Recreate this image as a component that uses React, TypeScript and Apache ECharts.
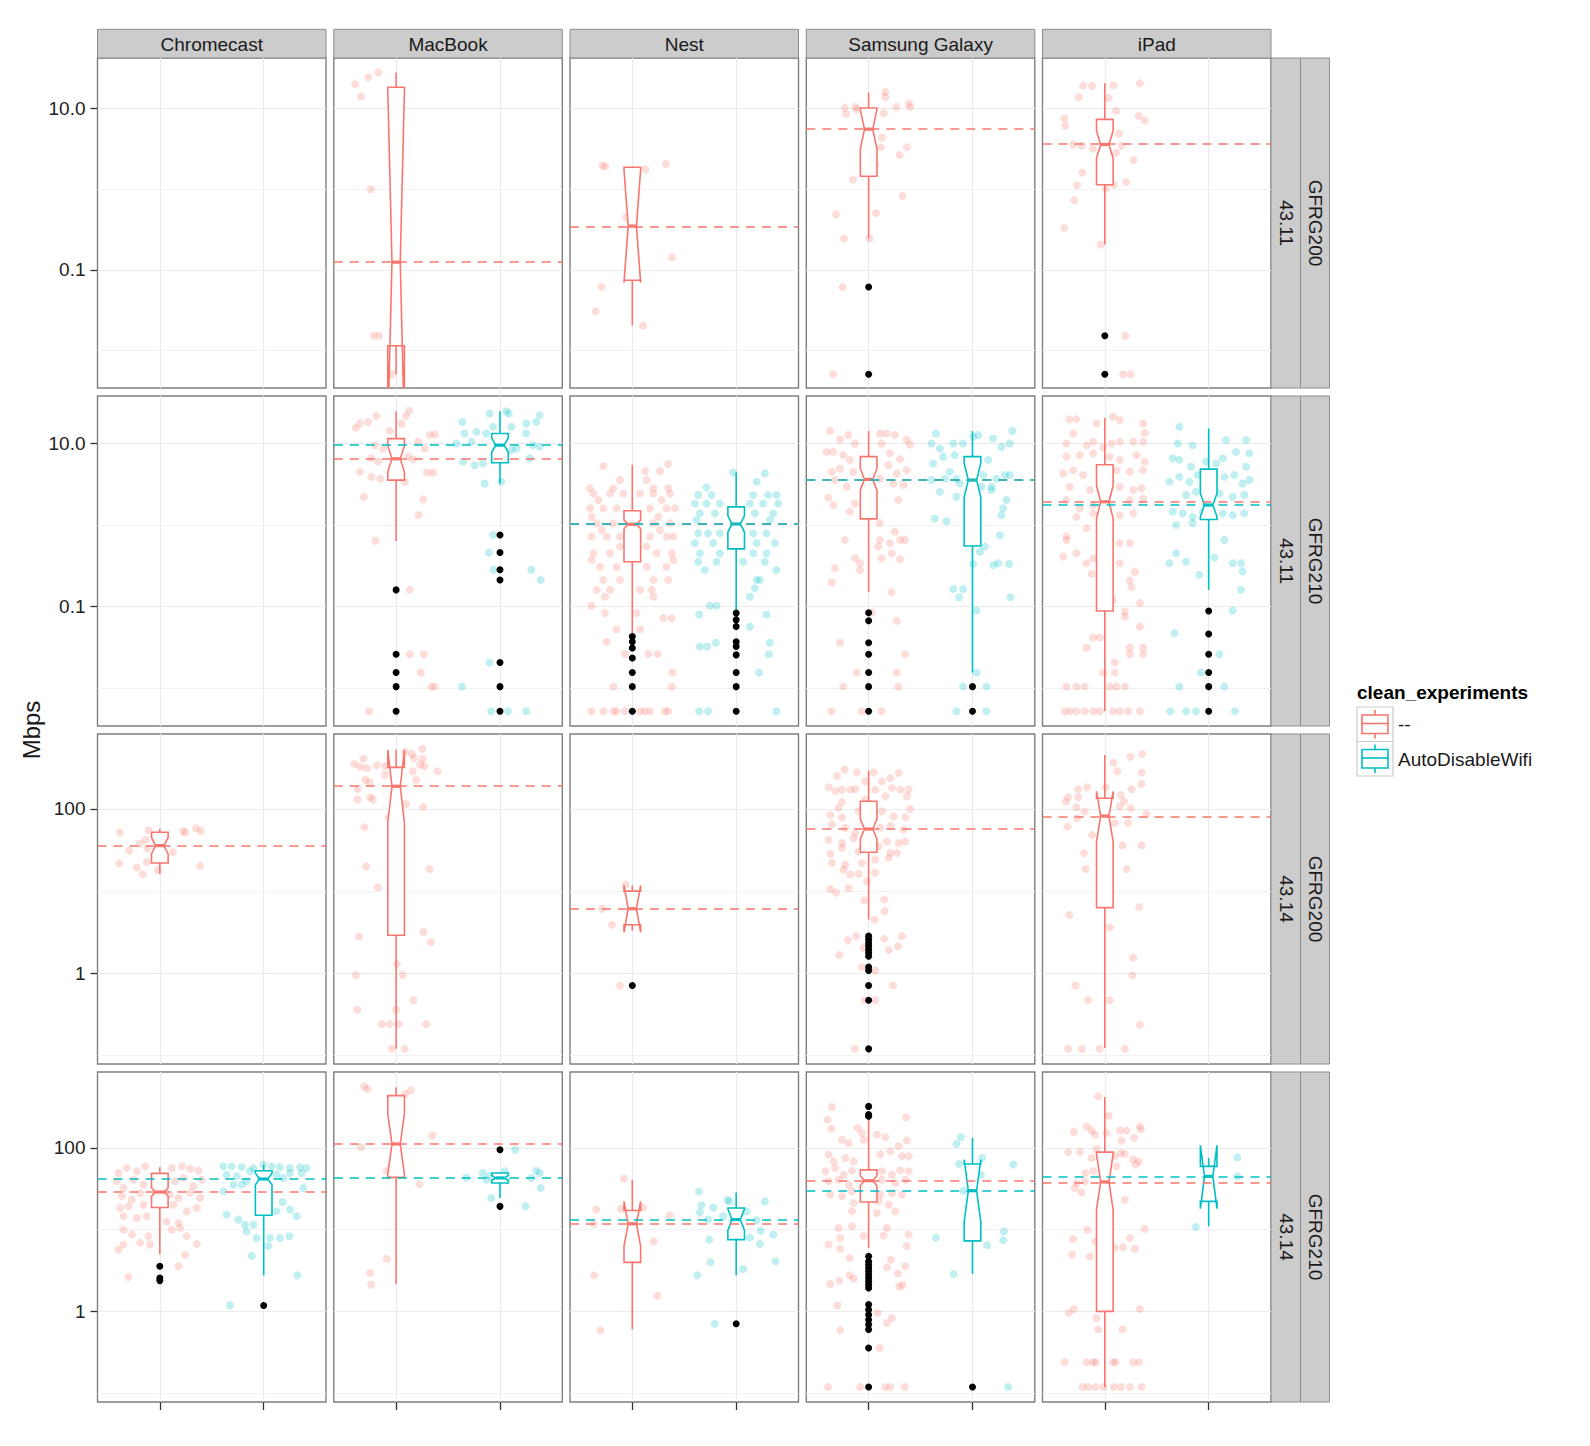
import React, { useRef, useEffect } from 'react';
import * as echarts from 'echarts';

const RED = '#F8766D';
const CYAN = '#00BFC4';
const FONT = '"Liberation Sans", Arial, Helvetica, sans-serif';

const devices = ['Chromecast', 'MacBook', 'Nest', 'Samsung Galaxy', 'iPad'];
const firmware = ['43.11', '43.11', '43.14', '43.14'];
const routers = ['GFRG200', 'GFRG210', 'GFRG200', 'GFRG210'];
const groupNames = ['--', 'AutoDisableWifi'];

// y limits per facet row (Mbps, log scale)
const rowLimits = [[0.003436, 42.5], [0.00342, 38.3], [0.0785, 818], [0.0778, 851]];
const majorTicksTop = [0.1, 10];
const majorLabelsTop = ['0.1', '10.0'];
const minorTicksTop = [0.01, 1];
const majorTicksLow = [1, 100];
const majorLabelsLow = ['1', '100'];
const minorTicksLow = [0.1, 10];

// box: [lower whisker, q1, notch low, median, notch high, q3, upper whisker]
// pts: [jitter offset, Mbps]

// ---- 43.11 / GFRG200
const mac1RedBox = [0.0051, 0.0115, 0.00092, 0.125, 17, 18.4, 28];
const mac1RedPts = [[-0.395, 20], [-0.337, 14.2], [-0.268, 24.5], [-0.172, 28], [-0.244, 1.0], [-0.217, 0.0153], [-0.165, 0.0153], [-0.04, 0.0051]];
const nest1RedBox = [0.0205, 0.0745, 0.0697, 0.35, 1.75, 1.88, 1.9];
const nest1RedPts = [[-0.286, 1.97], [-0.26, 1.91], [0.125, 1.77], [0.324, 2.07], [-0.058, 0.45], [0.382, 0.144], [-0.295, 0.0616], [-0.353, 0.0306], [0.103, 0.0205]];
const sam1RedBox = [0.248, 1.45, 3.17, 5.57, 9.8, 10.2, 15.8];
const sam1RedOut = [0.0616, 0.0051];
const sam1RedPts = [[-0.231, 10.3], [-0.128, 10.5], [-0.218, 8.6], [-0.112, 9.8], [0.16, 16.1], [0.16, 13.9], [0.144, 8.8], [0.266, 10.5], [0.385, 11.5], [0.401, 10.5], [0.128, 4.4], [0.118, 3.33], [0.369, 3.33], [0.298, 2.67], [0.064, 2.0], [-0.151, 1.32], [0.327, 0.826], [-0.315, 0.489], [0.071, 0.508], [-0.237, 0.246], [0.006, 0.246], [-0.25, 0.0616], [-0.343, 0.0051]];
const ipad1RedBox = [0.207, 1.14, 2.43, 3.6, 5.3, 7.36, 20.7];
const ipad1RedOut = [0.0153, 0.0051];
const ipad1RedPts = [[-0.209, 19.3], [-0.123, 19.1], [0.083, 19.5], [0.335, 20.6], [-0.249, 13.8], [0.036, 13.5], [0.109, 9.4], [-0.388, 7.6], [-0.381, 6.1], [0.328, 8.1], [0.385, 7.2], [0.136, 4.9], [-0.305, 3.6], [-0.222, 3.5], [-0.116, 3.2], [0.159, 3.46], [0.109, 2.83], [0.278, 2.3], [-0.216, 1.61], [-0.268, 1.12], [0.086, 1.14], [0.205, 1.23], [0.01, 1.02], [-0.295, 0.73], [-0.391, 0.33], [-0.04, 0.207], [0.199, 0.0153], [0.176, 0.0051], [0.248, 0.0051]];

// ---- 43.11 / GFRG210
const mac2RedBox = [0.637, 3.56, 4.5, 6.5, 9.4, 11.5, 24.9];
const mac2RedOut = [0.16, 0.026, 0.0155, 0.0104, 0.0052];
const mac2RedPts = [[-0.388, 15.6], [-0.35, 17.6], [-0.27, 18.4], [-0.19, 21.7], [0.051, 17.6], [0.093, 21.7], [0.125, 25.2], [-0.061, 14.3], [-0.205, 9.5], [-0.125, 8.7], [0.212, 10.5], [0.276, 8.7], [0.324, 12.7], [0.372, 13], [0.116, 6.9], [0.164, 6.4], [-0.238, 6.6], [-0.173, 6], [-0.35, 4.5], [-0.238, 3.9], [-0.151, 3.7], [0.298, 4.4], [0.356, 4.4], [0.084, 3.4], [-0.311, 2.2], [0.26, 2.07], [0.218, 1.33], [-0.199, 0.64], [0.132, 0.16], [0.132, 0.026], [0.266, 0.026], [0.238, 0.0155], [0.34, 0.0104], [0.372, 0.0104], [-0.26, 0.0052]];
const mac2CyanBox = [3.24, 5.8, 7.8, 9.55, 11.7, 13.3, 24.9];
const mac2CyanOut = [0.753, 0.46, 0.283, 0.212, 0.0206, 0.0104, 0.0052];
const mac2CyanPts = [[-0.363, 18.4], [-0.1, 23.4], [0.061, 24.9], [0.084, 23.4], [0.382, 22.3], [0.253, 17.6], [0.349, 18.4], [-0.067, 16], [0.109, 16], [-0.34, 13.3], [-0.228, 13.9], [-0.132, 13.3], [0.253, 13.3], [-0.42, 10], [-0.276, 10.5], [0.157, 8.7], [0.318, 9.55], [0.382, 9.1], [-0.356, 6], [-0.244, 5.4], [-0.164, 5.7], [0.109, 8.3], [0.286, 6.6], [-0.148, 3.24], [0.013, 3.4], [-0.067, 0.753], [-0.106, 0.46], [-0.061, 0.283], [0.302, 0.283], [0.392, 0.212], [-0.1, 0.0206], [-0.366, 0.0104], [-0.084, 0.0052], [0.077, 0.0052], [0.253, 0.0052]];
const nest2RedBox = [0.045, 0.355, 0.9, 1.02, 1.15, 1.5, 5.5];
const nest2RedOut = [0.0428, 0.037, 0.031, 0.0233, 0.0155, 0.0104, 0.0052];
const nest2RedPts = [[-0.279, 5.3], [0.122, 4.6], [0.266, 4.6], [0.346, 5.6], [-0.41, 2.82], [-0.183, 2.82], [0.202, 2.82], [0.346, 2.82], [-0.119, 3.56], [0.138, 3.56], [-0.375, 2.44], [-0.215, 2.44], [-0.087, 2.44], [0.074, 2.44], [0.202, 2.44], [0.363, 2.44], [-0.327, 2.02], [0.282, 2.02], [-0.407, 1.6], [-0.279, 1.6], [-0.151, 1.6], [0.17, 1.6], [0.33, 1.6], [0.411, 1.6], [-0.391, 1.26], [0.25, 1.26], [-0.343, 1.05], [-0.183, 1.05], [0.202, 1.05], [0.363, 1.05], [-0.295, 0.87], [0.266, 0.87], [-0.391, 0.72], [-0.247, 0.72], [-0.119, 0.72], [0.17, 0.72], [0.33, 0.72], [0.395, 0.72], [-0.119, 0.543], [0.138, 0.543], [-0.375, 0.45], [-0.215, 0.45], [0.234, 0.45], [0.379, 0.45], [-0.391, 0.372], [0.395, 0.372], [-0.311, 0.308], [-0.151, 0.308], [0.138, 0.308], [0.33, 0.308], [-0.279, 0.212], [-0.119, 0.212], [0.202, 0.212], [0.346, 0.212], [-0.343, 0.16], [-0.215, 0.16], [0.074, 0.16], [0.186, 0.16], [-0.263, 0.132], [0.202, 0.132], [-0.391, 0.102], [-0.263, 0.083], [0.042, 0.083], [0.298, 0.072], [0.379, 0.072], [-0.151, 0.0525], [0.074, 0.0525], [-0.247, 0.037], [-0.071, 0.0262], [0.154, 0.0262], [0.244, 0.0262], [0.385, 0.0155], [-0.183, 0.0104], [0.379, 0.0104], [-0.391, 0.0052], [-0.279, 0.0052], [-0.183, 0.0052], [-0.151, 0.0052], [-0.071, 0.0052], [0.074, 0.0052], [0.122, 0.0052], [0.17, 0.0052], [0.314, 0.0052], [0.346, 0.0052]];
const nest2CyanBox = [0.091, 0.51, 0.82, 1.03, 1.3, 1.67, 4.4];
const nest2CyanOut = [0.083, 0.0686, 0.0568, 0.037, 0.0323, 0.0255, 0.0155, 0.0104, 0.0052];
const nest2CyanPts = [[-0.029, 4.4], [-0.286, 2.9], [0.196, 3.4], [0.276, 4.3], [-0.366, 2.33], [-0.237, 2.33], [0.164, 2.33], [0.308, 2.33], [0.388, 2.33], [-0.398, 1.84], [-0.286, 1.84], [-0.157, 1.84], [0.132, 1.84], [0.26, 1.84], [0.404, 1.84], [-0.35, 1.39], [-0.205, 1.39], [0.18, 1.39], [0.356, 1.39], [-0.382, 1.15], [0.324, 1.15], [-0.366, 0.79], [-0.27, 0.79], [-0.157, 0.79], [0.164, 0.79], [0.292, 0.79], [-0.398, 0.6], [-0.221, 0.6], [0.196, 0.6], [0.372, 0.6], [-0.35, 0.45], [-0.157, 0.45], [0.164, 0.45], [0.292, 0.45], [-0.366, 0.355], [-0.189, 0.355], [0.067, 0.355], [0.276, 0.355], [-0.302, 0.281], [0.388, 0.281], [0.196, 0.212], [0.228, 0.212], [0.18, 0.167], [0.132, 0.132], [-0.253, 0.102], [-0.189, 0.102], [-0.356, 0.08], [0.292, 0.08], [0.132, 0.0567], [-0.35, 0.0323], [-0.279, 0.0323], [-0.196, 0.036], [0.324, 0.036], [0.314, 0.026], [0.221, 0.0155], [-0.356, 0.0052], [-0.27, 0.0052], [0.388, 0.0052]];
const sam2RedBox = [0.152, 1.19, 2.67, 3.63, 4.95, 6.9, 14.2];
const sam2RedOut = [0.084, 0.067, 0.036, 0.026, 0.0155, 0.0104, 0.0052];
const sam2RedPts = [[-0.372, 14.3], [-0.276, 11.2], [-0.196, 12.7], [-0.132, 10.0], [-0.34, 7.9], [-0.244, 7.2], [-0.404, 7.9], [-0.18, 6.3], [-0.356, 4.5], [-0.276, 4.9], [-0.148, 4.5], [-0.324, 3.56], [-0.212, 2.95], [-0.388, 2.18], [-0.34, 1.76], [-0.18, 1.46], [-0.132, 1.84], [0.109, 13.3], [0.173, 13.3], [0.253, 12.7], [0.366, 11.2], [0.398, 9.7], [0.125, 10.0], [0.205, 7.6], [0.302, 6.4], [0.366, 4.7], [0.27, 4.3], [0.189, 5.4], [0.109, 3.7], [0.237, 3.24], [0.334, 3.1], [0.286, 2.02], [0.109, 1.05], [0.253, 0.83], [0.302, 0.655], [0.205, 0.6], [0.35, 0.655], [-0.228, 0.655], [0.109, 0.655], [0.093, 0.543], [0.221, 0.45], [0.125, 0.39], [0.302, 0.38], [-0.132, 0.39], [-0.083, 0.339], [-0.324, 0.295], [-0.083, 0.281], [-0.356, 0.197], [0.221, 0.15], [0.029, 0.084], [0.27, 0.067], [-0.276, 0.036], [0.35, 0.026], [-0.115, 0.0155], [0.27, 0.0155], [-0.244, 0.0104], [0.286, 0.0104], [-0.356, 0.0052], [-0.067, 0.0052], [0.125, 0.0052]];
const sam2CyanBox = [0.0155, 0.553, 2.2, 3.56, 5.75, 6.9, 14.2];
const sam2CyanOut = [0.0104, 0.0052];
const sam2CyanPts = [[-0.353, 13.3], [-0.186, 10.0], [-0.09, 10.0], [0.006, 12.1], [0.055, 12.7], [0.199, 11.5], [0.385, 14.3], [0.279, 9.1], [0.359, 10.0], [-0.395, 10.0], [-0.314, 8.7], [-0.379, 5.7], [-0.282, 6.9], [-0.17, 7.2], [-0.218, 4.5], [-0.154, 3.7], [-0.266, 3.7], [-0.395, 3.56], [-0.122, 3.24], [-0.314, 2.56], [-0.154, 2.22], [0.103, 4.1], [0.183, 2.95], [0.231, 3.7], [0.311, 4.1], [0.359, 4.1], [0.087, 2.95], [0.151, 6.3], [0.183, 2.69], [0.327, 2.02], [0.295, 1.6], [0.279, 1.32], [-0.363, 1.2], [-0.25, 1.11], [0.263, 0.75], [0.119, 0.543], [0.071, 0.47], [0.199, 0.323], [0.247, 0.339], [0.353, 0.333], [0.006, 0.333], [-0.186, 0.164], [-0.09, 0.164], [-0.128, 0.13], [0.366, 0.13], [0.038, 0.089], [0.038, 0.0155], [-0.09, 0.0104], [0.135, 0.0104], [-0.154, 0.0052], [0.135, 0.0052]];
const ipad2RedBox = [0.0052, 0.088, 1.2, 1.93, 3.05, 5.5, 20.6];
const ipad2RedPts = [[-0.343, 19.8], [-0.273, 19.8], [-0.08, 17.6], [0.08, 21.3], [0.144, 19.4], [0.369, 17.6], [0.385, 13.5], [-0.305, 13.3], [-0.369, 10.0], [-0.176, 9.5], [-0.112, 10.5], [-0.016, 9.0], [0.064, 10.0], [0.144, 10.5], [0.273, 10.5], [0.369, 10.5], [-0.369, 6.9], [-0.241, 7.2], [-0.112, 7.6], [0.048, 6.9], [0.144, 6.3], [0.305, 7.2], [0.385, 6.0], [-0.401, 4.3], [-0.305, 4.7], [-0.209, 4.1], [0.112, 4.7], [0.241, 4.5], [0.369, 4.7], [-0.337, 2.95], [-0.144, 2.69], [0.144, 2.95], [0.273, 2.69], [0.353, 2.82], [-0.369, 2.02], [-0.241, 1.6], [-0.112, 1.76], [0.241, 2.02], [0.369, 2.1], [-0.273, 1.26], [-0.112, 1.39], [0.144, 1.32], [0.273, 1.39], [-0.176, 0.91], [-0.369, 0.72], [-0.369, 0.655], [0.144, 0.6], [0.241, 0.6], [-0.273, 0.45], [-0.401, 0.41], [-0.112, 0.39], [0.144, 0.339], [0.289, 0.264], [-0.176, 0.339], [-0.128, 0.252], [0.241, 0.208], [0.257, 0.172], [0.337, 0.11], [0.08, 0.12], [0.193, 0.087], [0.193, 0.075], [0.337, 0.0567], [-0.112, 0.0416], [-0.048, 0.0416], [-0.176, 0.0314], [0.241, 0.0314], [0.369, 0.0314], [0.369, 0.026], [0.241, 0.026], [0.096, 0.0206], [0.096, 0.0155], [-0.016, 0.0155], [-0.369, 0.0104], [-0.273, 0.0104], [-0.193, 0.0104], [0.048, 0.0104], [0.112, 0.0104], [0.193, 0.0104], [-0.385, 0.0052], [-0.337, 0.0052], [-0.273, 0.0052], [-0.193, 0.0052], [-0.112, 0.0052], [-0.048, 0.0052], [0.08, 0.0052], [0.144, 0.0052], [0.225, 0.0052], [0.337, 0.0052]];
const ipad2CyanBox = [0.16, 1.17, 1.26, 1.76, 2.44, 4.85, 15.3];
const ipad2CyanOut = [0.088, 0.046, 0.026, 0.0155, 0.0104, 0.0052];
const ipad2CyanPts = [[-0.282, 16.0], [-0.298, 10.0], [-0.154, 9.5], [-0.346, 6.6], [-0.282, 6.3], [-0.17, 5.2], [-0.026, 6.0], [0.071, 5.7], [0.167, 11.0], [0.359, 11.0], [0.391, 7.6], [0.263, 7.9], [0.359, 5.2], [0.135, 6.6], [0.151, 3.9], [0.247, 4.1], [0.327, 3.24], [0.391, 3.56], [-0.379, 3.4], [-0.282, 3.9], [-0.186, 3.4], [-0.106, 4.1], [-0.218, 2.33], [-0.122, 2.56], [0.103, 2.44], [0.231, 2.22], [0.343, 2.33], [-0.346, 1.46], [-0.25, 1.39], [-0.154, 1.26], [-0.058, 1.46], [0.135, 1.39], [0.231, 1.32], [0.343, 1.39], [-0.314, 1.0], [-0.154, 1.05], [0.151, 0.655], [-0.314, 0.45], [0.055, 0.4], [-0.379, 0.339], [-0.218, 0.355], [0.231, 0.339], [0.311, 0.339], [0.327, 0.27], [-0.09, 0.245], [0.311, 0.16], [0.231, 0.089], [-0.33, 0.047], [0.103, 0.026], [-0.074, 0.0155], [-0.282, 0.0104], [0.151, 0.0104], [-0.369, 0.0052], [-0.218, 0.0052], [-0.122, 0.0052], [0.253, 0.0052]];

// ---- 43.14 / GFRG200
const chr3RedBox = [16.3, 22, 28.4, 35.8, 45, 52, 57.5];
const chr3RedPts = [[-0.385, 51.5], [-0.109, 55], [-0.138, 42], [-0.195, 37.8], [-0.295, 31], [-0.119, 33], [0.125, 29.7], [0.228, 54], [0.244, 51.5], [0.35, 58], [0.395, 54], [-0.391, 21.6], [-0.221, 19.3], [-0.125, 22.4], [-0.164, 16], [-0.019, 17.9], [0.388, 20.3]];
const mac3RedBox = [0.12, 2.9, 68, 189, 526, 321, 526];
const mac3RedPts = [[-0.315, 409], [-0.401, 352], [-0.346, 324], [-0.282, 315], [-0.186, 340], [-0.106, 331], [0.087, 493], [0.151, 467], [0.173, 417], [0.253, 542], [0.257, 409], [0.231, 346], [0.273, 331], [0.161, 288], [0.398, 288], [0.193, 227], [-0.298, 227], [-0.257, 213], [-0.106, 261], [-0.372, 175], [-0.25, 139], [-0.224, 130], [-0.372, 130], [0.096, 115], [0.26, 106], [-0.074, 79], [-0.305, 60], [-0.289, 20], [0.321, 18.5], [-0.176, 11.1], [-0.359, 2.8], [0.263, 3.2], [0.334, 2.4], [0.006, 1.3], [-0.388, 0.95], [0.064, 0.95], [0.167, 0.47], [-0.375, 0.36], [0, 0.36], [-0.138, 0.24], [-0.064, 0.24], [0.026, 0.24], [0.289, 0.24], [-0.042, 0.12], [0.083, 0.12]];
const nest3RedBox = [3.3, 3.9, 3.15, 6.1, 11.7, 10, 11.7];
const nest3RedOut = [0.71];
const nest3RedPts = [[-0.064, 12], [-0.289, 6.1], [-0.196, 3.9], [-0.119, 0.71]];
const sam3RedBox = [4.5, 29.7, 43, 57, 75.5, 124, 292];
const sam3RedOut = [2.83, 2.57, 2.34, 2.14, 1.94, 1.77, 1.61, 1.19, 1.08, 0.71, 0.47, 0.12];
const sam3RedPts = [[-0.231, 301], [-0.112, 279], [0.048, 279], [0.289, 274], [-0.305, 254], [0.209, 238], [-0.032, 217], [0.128, 217], [-0.385, 184], [-0.257, 172], [-0.128, 175], [0.064, 172], [0.225, 180], [0.305, 172], [0.385, 172], [-0.321, 164], [-0.176, 172], [0.16, 143], [0.369, 143], [-0.257, 122], [-0.096, 94], [-0.032, 130], [-0.289, 103], [-0.369, 85], [-0.257, 79], [0.128, 94], [0.241, 81], [0.353, 79], [0.401, 100], [-0.353, 65], [-0.225, 59], [-0.128, 51], [0.112, 59], [0.209, 62], [0.337, 56], [-0.385, 42], [-0.257, 38.6], [-0.144, 44], [0.176, 40], [0.289, 38.6], [0.353, 40], [-0.369, 28.4], [-0.257, 33.6], [-0.096, 30.5], [0.096, 35], [0.209, 29.2], [0.273, 29.2], [-0.353, 22], [-0.225, 21], [-0.064, 22], [0.064, 24.2], [0.193, 25.4], [-0.241, 18.3], [-0.176, 15.9], [-0.096, 16.2], [0.064, 16.7], [-0.369, 10.6], [-0.314, 9.6], [-0.193, 10.9], [-0.016, 13.2], [-0.042, 7.7], [0.151, 7.9], [0.154, 5.7], [0.058, 4.5], [-0.199, 2.52], [-0.119, 2.83], [0.151, 2.62], [0.321, 2.83], [-0.282, 1.66], [-0.048, 2.04], [0.193, 1.91], [0.282, 2.13], [-0.064, 1.19], [0.064, 1.08], [0.234, 0.71], [-0.038, 0.47], [0.064, 0.47], [-0.135, 0.12]];
const ipad3RedBox = [0.123, 6.3, 40, 82, 164, 135, 454];
const ipad3RedPts = [[0.359, 467], [0.247, 433], [0.083, 366], [0.119, 288], [0.353, 277], [0.353, 201], [0.257, 174], [-0.257, 174], [-0.17, 184], [0.01, 184], [-0.353, 139], [-0.257, 139], [-0.375, 123], [-0.273, 104], [-0.193, 93], [0.154, 148], [0.144, 107], [0.186, 123], [0.25, 102], [0.401, 87], [-0.266, 77], [-0.359, 61], [0.096, 67], [0.224, 68], [-0.122, 48], [0.17, 36], [0.353, 36], [-0.199, 29], [-0.186, 18.6], [0.212, 18.6], [-0.343, 5.1], [0.331, 6.4], [0.048, 3.6], [0.273, 1.55], [0.266, 0.94], [-0.282, 0.71], [-0.16, 0.47], [0.048, 0.47], [0.337, 0.235], [-0.353, 0.12], [-0.221, 0.12], [-0.051, 0.12], [0.193, 0.12]];

// ---- 43.14 / GFRG210
const chr4RedBox = [5.0, 18.7, 25.8, 28.9, 32.4, 48.9, 58];
const chr4RedOut = [3.56, 2.56, 2.38];
const chr4RedPts = [[-0.398, 49.4], [-0.318, 56.9], [-0.221, 51.8], [-0.141, 59.6], [0.115, 56.9], [0.212, 59.6], [0.292, 55.8], [0.372, 52.8], [-0.414, 39.1], [-0.35, 32.4], [-0.253, 40.9], [-0.157, 35.6], [0.148, 39.1], [0.228, 42.9], [0.324, 34], [0.404, 40.9], [-0.366, 25.6], [-0.269, 23.3], [-0.189, 28.1], [0.099, 26.8], [0.18, 24.4], [0.292, 28.1], [0.388, 24.4], [-0.382, 18.4], [-0.302, 19.3], [-0.157, 20.2], [0.132, 20.2], [0.26, 16.8], [0.356, 18.4], [-0.35, 14.6], [-0.221, 13.9], [-0.125, 14.6], [0.067, 12.6], [0.18, 12.1], [-0.35, 10], [-0.269, 8.7], [-0.109, 8.3], [0.115, 10], [0.26, 8.3], [0.196, 10.5], [-0.398, 5.7], [-0.35, 6.6], [-0.189, 6.9], [-0.093, 6.6], [0.356, 6.7], [0.244, 4.9], [0.18, 3.56], [-0.302, 2.64]];
const chr4CyanBox = [2.76, 15, 35.5, 41.7, 49, 52.7, 62.5];
const chr4CyanOut = [1.18];
const chr4CyanPts = [[-0.388, 59.6], [-0.308, 59.6], [-0.212, 58.5], [-0.099, 56.9], [-0.003, 62.5], [0.077, 59.6], [0.157, 58], [0.253, 56.9], [0.35, 58], [0.414, 56.9], [-0.356, 47.1], [-0.26, 45], [-0.132, 51.8], [0.125, 47.1], [0.253, 49.4], [0.366, 49.4], [-0.388, 29.5], [-0.292, 35.6], [-0.212, 35.6], [-0.164, 39.1], [-0.003, 35.6], [0.189, 42.9], [0.382, 32.4], [-0.356, 15.3], [-0.244, 13.3], [-0.164, 9.5], [-0.099, 11.5], [0.045, 16.8], [0.125, 16.8], [0.183, 21.8], [0.253, 17.6], [0.318, 14.6], [-0.18, 11.5], [-0.067, 7.9], [0.061, 7.9], [0.157, 7.9], [0.247, 8.3], [-0.115, 4.8], [0.045, 6.3], [0.324, 2.76], [-0.324, 1.19]];
const mac4RedBox = [2.16, 43.7, 47.8, 112, 262, 437, 552];
const mac4RedPts = [[-0.308, 567], [-0.276, 527], [0.087, 458], [0.141, 507], [0.349, 142], [-0.337, 102], [-0.09, 52.7], [0.224, 36], [-0.09, 4.4], [-0.25, 2.95], [-0.241, 2.12]];
const mac4CyanBox = [24.4, 37.3, 40, 43, 46.2, 49.4, 50];
const mac4CyanOut = [95, 19.3];
const mac4CyanPts = [[-0.324, 43.6], [-0.164, 49.4], [-0.099, 45], [-0.131, 40.9], [0.045, 51.8], [0.061, 40.9], [0.349, 52.7], [0.382, 49.4], [0.301, 43], [0.392, 32.4], [0.147, 95], [-0.084, 24.4], [0.247, 19.3]];
const nest4RedBox = [0.6, 3.98, 6.3, 11.8, 22.2, 17.2, 40.9];
const nest4RedPts = [[-0.08, 42], [-0.346, 17.6], [-0.112, 18], [0.103, 18.7], [0.359, 15], [-0.369, 11.7], [0.205, 7.2], [-0.369, 2.76], [0.241, 1.56], [-0.305, 0.585]];
const nest4CyanBox = [2.76, 7.55, 9.8, 13.3, 18, 18.4, 28.6];
const nest4CyanOut = [0.706];
const nest4CyanPts = [[-0.359, 29.4], [-0.334, 19.9], [-0.349, 16.3], [-0.221, 18.7], [-0.084, 23.3], [-0.064, 22.2], [0.276, 22.2], [-0.27, 13.3], [-0.125, 14.6], [0.196, 13], [0.1, 16.7], [0.234, 9.7], [0.356, 8.7], [0.132, 8], [-0.26, 7.55], [0.228, 6.7], [-0.247, 4.0], [0.379, 4.1], [0.067, 3.3], [-0.375, 2.76], [-0.205, 0.706]];
const sam4RedBox = [5.97, 21.8, 34.7, 39.8, 45.7, 54, 233];
const sam4RedOut = [323, 256, 244, 4.72, 4.09, 3.73, 3.4, 3.09, 2.81, 2.56, 2.33, 2.12, 1.93, 1.21, 1.05, 0.91, 0.79, 0.69, 0.6, 0.356, 0.119];
const sam4RedPts = [[-0.353, 317], [-0.395, 222], [-0.359, 172], [0.363, 237], [-0.106, 175], [-0.064, 152], [-0.192, 115], [-0.257, 126], [-0.048, 126], [0.08, 146], [0.16, 135], [0.289, 105], [0.369, 123], [-0.385, 83], [-0.337, 68.6], [-0.225, 75.4], [-0.144, 68.6], [0.112, 83], [0.209, 91], [0.321, 79], [0.385, 79], [-0.417, 51.8], [-0.321, 56.9], [-0.241, 47.1], [-0.16, 52.8], [0.128, 51.8], [0.225, 47.1], [0.305, 53.5], [0.385, 51.8], [-0.385, 39.1], [-0.289, 40.9], [-0.192, 35.6], [0.128, 40.9], [0.257, 37.3], [0.353, 40.9], [-0.369, 26.8], [-0.257, 25.6], [-0.16, 29.5], [0.112, 26.8], [0.225, 28.1], [0.321, 26.8], [-0.144, 21.2], [0.096, 22.2], [0.193, 20.2], [-0.16, 16.8], [0.08, 16], [0.257, 16.8], [-0.289, 10.5], [-0.16, 11], [0.176, 10.5], [-0.273, 7.9], [-0.385, 6.6], [-0.273, 5.85], [-0.048, 8.3], [0.144, 8.5], [0.385, 8.7], [0.369, 6.3], [-0.183, 4.5], [0.215, 4.3], [0.176, 3.46], [0.282, 2.92], [0.353, 3.56], [-0.183, 2.76], [-0.144, 2.51], [-0.369, 2.16], [-0.282, 2.38], [0.295, 2.02], [0.327, 2.12], [-0.302, 1.19], [-0.273, 0.59], [0.087, 0.955], [0.225, 0.83], [0.176, 0.72], [0.106, 0.356], [-0.391, 0.119], [-0.08, 0.119], [0.16, 0.119], [0.209, 0.119], [0.347, 0.119]];
const sam4CyanBox = [2.87, 7.3, 12.5, 30, 72, 63.7, 133];
const sam4CyanOut = [0.119];
const sam4CyanPts = [[-0.154, 112], [-0.112, 135], [0.093, 75.5], [-0.128, 63.7], [0.392, 62.5], [0.08, 47], [-0.087, 30], [-0.353, 8], [0.301, 9.5], [0.295, 7.4], [0.141, 6.5], [-0.18, 2.87], [0.343, 0.119]];
const ipad4RedBox = [0.119, 1.0, 17.6, 38.4, 84, 89, 421];
const ipad4RedPts = [[-0.064, 428], [0.038, 248], [-0.298, 157], [-0.176, 184], [-0.128, 163], [-0.096, 146], [0.016, 153], [0.144, 163], [0.209, 163], [0.282, 133], [0.337, 184], [0.346, 168], [0.16, 123], [-0.353, 89], [-0.241, 89], [-0.128, 75.5], [-0.08, 98], [0.096, 79], [0.154, 87], [0.192, 84.5], [0.273, 72], [0.327, 68.6], [0.298, 62.5], [-0.186, 49.4], [-0.112, 51.8], [0.112, 59.6], [-0.192, 39], [-0.273, 37.3], [-0.289, 32.4], [-0.225, 28.6], [0.192, 23.3], [-0.167, 10], [-0.305, 7.7], [-0.09, 7.2], [0.096, 6.0], [0.176, 6.1], [0.241, 7.9], [0.289, 5.85], [0.385, 10.2], [-0.314, 4.94], [-0.144, 4.7], [-0.346, 0.955], [-0.298, 1.07], [-0.08, 0.83], [-0.064, 0.6], [0.17, 0.6], [0.337, 1.07], [-0.385, 0.238], [-0.176, 0.238], [-0.112, 0.238], [-0.087, 0.238], [0.08, 0.238], [0.103, 0.238], [0.273, 0.238], [0.33, 0.238], [-0.215, 0.119], [-0.16, 0.119], [-0.09, 0.119], [-0.013, 0.119], [0.087, 0.119], [0.154, 0.119], [0.241, 0.119], [0.353, 0.119]];
const ipad4CyanBox = [11, 22.2, 18.1, 44.9, 108, 59.6, 75.5];
const ipad4CyanPts = [[0.276, 76.7], [0.276, 44.9], [-0.125, 10.8]];

type Grp = { box: number[]; out: number[]; pts: number[][] };
const g = (box: number[], out: number[], pts: number[][]): Grp => ({ box, out, pts });

// facet table: [row, col, red group, cyan group]
const panels: [number, number, Grp | null, Grp | null][] = [
  [0, 1, g(mac1RedBox, [], mac1RedPts), null],
  [0, 2, g(nest1RedBox, [], nest1RedPts), null],
  [0, 3, g(sam1RedBox, sam1RedOut, sam1RedPts), null],
  [0, 4, g(ipad1RedBox, ipad1RedOut, ipad1RedPts), null],
  [1, 1, g(mac2RedBox, mac2RedOut, mac2RedPts), g(mac2CyanBox, mac2CyanOut, mac2CyanPts)],
  [1, 2, g(nest2RedBox, nest2RedOut, nest2RedPts), g(nest2CyanBox, nest2CyanOut, nest2CyanPts)],
  [1, 3, g(sam2RedBox, sam2RedOut, sam2RedPts), g(sam2CyanBox, sam2CyanOut, sam2CyanPts)],
  [1, 4, g(ipad2RedBox, [], ipad2RedPts), g(ipad2CyanBox, ipad2CyanOut, ipad2CyanPts)],
  [2, 0, g(chr3RedBox, [], chr3RedPts), null],
  [2, 1, g(mac3RedBox, [], mac3RedPts), null],
  [2, 2, g(nest3RedBox, nest3RedOut, nest3RedPts), null],
  [2, 3, g(sam3RedBox, sam3RedOut, sam3RedPts), null],
  [2, 4, g(ipad3RedBox, [], ipad3RedPts), null],
  [3, 0, g(chr4RedBox, chr4RedOut, chr4RedPts), g(chr4CyanBox, chr4CyanOut, chr4CyanPts)],
  [3, 1, g(mac4RedBox, [], mac4RedPts), g(mac4CyanBox, mac4CyanOut, mac4CyanPts)],
  [3, 2, g(nest4RedBox, [], nest4RedPts), g(nest4CyanBox, nest4CyanOut, nest4CyanPts)],
  [3, 3, g(sam4RedBox, sam4RedOut, sam4RedPts), g(sam4CyanBox, sam4CyanOut, sam4CyanPts)],
  [3, 4, g(ipad4RedBox, [], ipad4RedPts), g(ipad4CyanBox, [], ipad4CyanPts)],
];

const COL_LEFT = [97.5, 333.8, 570, 806.3, 1042.5];
const ROW_TOP = [58, 396, 734, 1072];
const PW = 228.5;
const PH = 330;

const L = (v: number) => Math.log10(v);

function buildOption() {
  const grid: any[] = [];
  const xAxis: any[] = [];
  const yAxis: any[] = [];
  const series: any[] = [];

  for (let r = 0; r < 4; r++) {
    for (let c = 0; c < 5; c++) {
      const gi = r * 5 + c;
      const top = r < 2;
      const majors = top ? majorTicksTop : majorTicksLow;
      const labels = top ? majorLabelsTop : majorLabelsLow;
      const minors = top ? minorTicksTop : minorTicksLow;
      const [lo, hi] = rowLimits[r];
      grid.push({
        left: COL_LEFT[c], top: ROW_TOP[r], width: PW, height: PH,
        show: true, backgroundColor: '#fff', borderColor: '#7F7F7F', borderWidth: 1.4,
        containLabel: false, outerBoundsMode: 'none',
      });
      xAxis.push({
        type: 'value', gridIndex: gi, min: 0.4, max: 2.6, position: 'bottom',
        axisLine: { show: false, onZero: false },
        axisTick: { show: r === 3, customValues: [1, 2], length: 8, lineStyle: { color: '#333', width: 1.3 } },
        axisLabel: { show: false },
        splitLine: { show: true, lineStyle: { color: '#EBEBEB', width: 1.2 } },
      });
      yAxis.push({
        type: 'value', gridIndex: gi, min: L(lo), max: L(hi), position: 'left',
        axisLine: { show: false, onZero: false },
        axisTick: { show: false, customValues: minors.map(L) },
        axisLabel: { show: false },
        splitLine: { show: true, lineStyle: { color: '#F2F2F2', width: 1.2 } },
      });
      yAxis.push({
        type: 'value', gridIndex: gi, min: L(lo), max: L(hi), position: 'left', offset: 0,
        axisLine: { show: false, onZero: false },
        axisTick: { show: c === 0, customValues: majors.map(L), length: 7, lineStyle: { color: '#333', width: 1.3 } },
        axisLabel: {
          show: c === 0, customValues: majors.map(L), margin: 12,
          fontSize: 19, fontFamily: FONT, color: '#222',
          formatter: (v: number) => {
            const i = majors.findIndex((m) => Math.abs(L(m) - v) < 1e-6);
            return i >= 0 ? labels[i] : '';
          },
        },
        splitLine: { show: true, lineStyle: { color: '#EBEBEB', width: 1.2 } },
      });

      const p = panels.find((q) => q[0] === r && q[1] === c);
      if (!p) continue;
      const yi = gi * 2 + 1;
      const grps: [Grp | null, number, string][] = [[p[2], 1, RED], [p[3], 2, CYAN]];
      const boxData: number[][] = [];
      const outData: number[][] = [];
      const medLines: any[] = [];
      grps.forEach(([grp, xc, color], k) => {
        if (!grp) return;
        series.push({
          type: 'scatter', xAxisIndex: gi, yAxisIndex: yi, silent: true, z: 2,
          symbolSize: 8, itemStyle: { color, opacity: 0.25 },
          data: grp.pts.map(([o, v]) => [xc + o, L(v)]),
        });
        boxData.push([xc, ...grp.box.map(L), k]);
        grp.out.forEach((v) => outData.push([xc, L(v)]));
        medLines.push({ yAxis: L(grp.box[3]), lineStyle: { color } });
      });
      series.push({
        type: 'custom', xAxisIndex: gi, yAxisIndex: yi, silent: true, z: 3, clip: true,
        encode: { x: 0, y: 4 },
        data: boxData,
        renderItem: (params: any, api: any) => {
          const xc = api.value(0);
          const hw = 0.08;
          const x0 = api.coord([xc - hw, 0])[0];
          const x1 = api.coord([xc + hw, 0])[0];
          const xm = api.coord([xc, 0])[0];
          const yv = (i: number) => api.coord([xc, api.value(i)])[1];
          const lw = yv(1), q1 = yv(2), nlo = yv(3), med = yv(4), nhi = yv(5), q3 = yv(6), uw = yv(7);
          const color = api.value(8) === 0 ? RED : CYAN;
          const ind = (x1 - x0) * 0.25;
          const st = { stroke: color, lineWidth: 1.6, fill: 'none' };
          return {
            type: 'group',
            children: [
              { type: 'line', shape: { x1: xm, y1: q3, x2: xm, y2: uw }, style: st },
              { type: 'line', shape: { x1: xm, y1: q1, x2: xm, y2: lw }, style: st },
              {
                type: 'polygon',
                shape: { points: [[x0, q3], [x0, nhi], [x0 + ind, med], [x0, nlo], [x0, q1], [x1, q1], [x1, nlo], [x1 - ind, med], [x1, nhi], [x1, q3]] },
                style: { stroke: color, lineWidth: 1.6, fill: '#fff' },
              },
              { type: 'line', shape: { x1: x0 + ind, y1: med, x2: x1 - ind, y2: med }, style: { stroke: color, lineWidth: 3.2 } },
            ],
          };
        },
      });
      series.push({
        type: 'scatter', xAxisIndex: gi, yAxisIndex: yi, silent: true, z: 4,
        symbolSize: 7, itemStyle: { color: '#000', opacity: 1 },
        data: outData,
        markLine: {
          silent: true, symbol: ['none', 'none'], label: { show: false }, animation: false,
          lineStyle: { type: [9, 7], width: 1.6 },
          emphasis: { disabled: true },
          data: medLines,
        },
      });
    }
  }

  const graphic: any[] = [];
  const txt = (x: number, y: number, text: string, extra: any = {}) => ({
    type: 'text', x, y, silent: true, ...extra,
    style: { text, font: `19px ${FONT}`, fill: '#1A1A1A', align: 'center', verticalAlign: 'middle', ...(extra.style || {}) },
  });
  devices.forEach((d, c) => {
    graphic.push({ type: 'rect', silent: true, shape: { x: COL_LEFT[c], y: 29.3, width: PW, height: 28.7 }, style: { fill: '#CCCCCC', stroke: '#8C8C8C', lineWidth: 1 } });
    graphic.push(txt(COL_LEFT[c] + PW / 2, 44, d));
  });
  for (let r = 0; r < 4; r++) {
    const mid = ROW_TOP[r] + PH / 2;
    graphic.push({ type: 'rect', silent: true, shape: { x: 1271, y: ROW_TOP[r], width: 29.5, height: PH }, style: { fill: '#CCCCCC', stroke: '#8C8C8C', lineWidth: 1 } });
    graphic.push({ type: 'rect', silent: true, shape: { x: 1300.5, y: ROW_TOP[r], width: 29, height: PH }, style: { fill: '#CCCCCC', stroke: '#8C8C8C', lineWidth: 1 } });
    graphic.push(txt(1286, mid, firmware[r], { rotation: -Math.PI / 2 }));
    graphic.push(txt(1315, mid, routers[r], { rotation: -Math.PI / 2 }));
  }
  graphic.push(txt(31, 730, 'Mbps', { rotation: Math.PI / 2, style: { font: `24px ${FONT}` } }));

  // legend
  graphic.push(txt(1357, 692, 'clean_experiments', { style: { font: `bold 19px ${FONT}`, align: 'left', fill: '#000' } }));
  [RED, CYAN].forEach((color, i) => {
    const y0 = 707 + i * 34.5;
    graphic.push({ type: 'rect', silent: true, shape: { x: 1357, y: y0, width: 36, height: 34.5 }, style: { fill: '#fff', stroke: '#CCCCCC', lineWidth: 1.2 } });
    graphic.push({ type: 'line', silent: true, shape: { x1: 1375, y1: y0 + 3, x2: 1375, y2: y0 + 31.5 }, style: { stroke: color, lineWidth: 1.6 } });
    graphic.push({ type: 'rect', silent: true, shape: { x: 1362, y: y0 + 8, width: 26, height: 18.5 }, style: { fill: '#fff', stroke: color, lineWidth: 1.6 } });
    graphic.push({ type: 'line', silent: true, shape: { x1: 1362, y1: y0 + 16.5, x2: 1388, y2: y0 + 16.5 }, style: { stroke: color, lineWidth: 1.6 } });
    graphic.push(txt(1398, y0 + 17.5, groupNames[i], { style: { align: 'left' } }));
  });

  return {
    animation: false,
    backgroundColor: '#fff',
    grid, xAxis, yAxis, series, graphic,
  };
}

const App = () => {
  const chartRef = useRef<HTMLDivElement>(null);

  useEffect(() => {
    const chart = echarts.init(chartRef.current, null, { renderer: 'svg' });
    chart.setOption(buildOption() as any);
    return () => {
      chart.dispose();
    };
  }, []);

  return <div ref={chartRef} style={{ position: 'absolute', left: 0, top: 0, width: '1590px', height: '1446px' }} />;
};

export default App;
